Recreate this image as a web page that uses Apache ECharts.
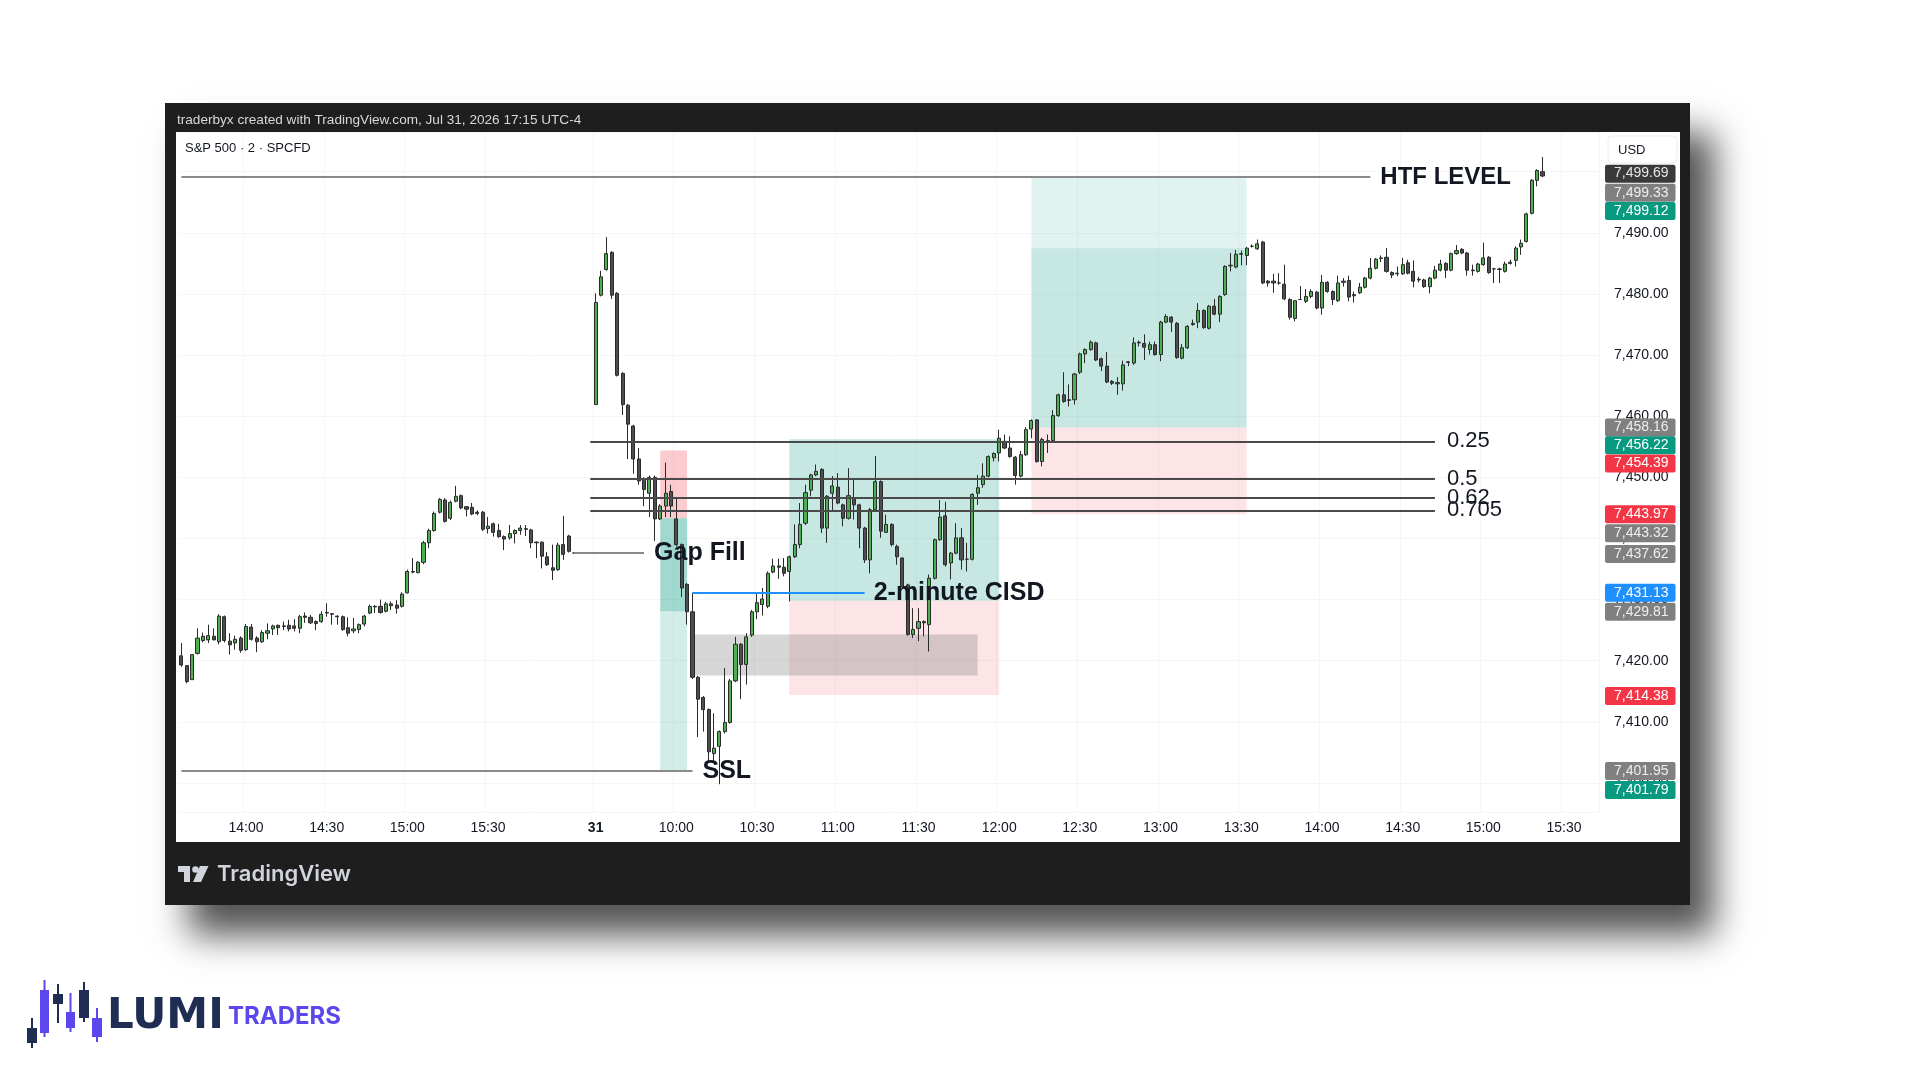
<!DOCTYPE html>
<html><head><meta charset="utf-8">
<script src="https://cdn.jsdelivr.net/npm/echarts@6/dist/echarts.min.js"></script>
<style>html,body{margin:0;padding:0;background:#fff}#c{width:1920px;height:1080px}</style>
</head><body><div id="c"></div>
<script>
// ---- DATA (candles: [open, close, low, high]) ----
const prevDay = [
[7420.8,7419.3,7419.0,7422.9],[7419.2,7416.6,7416.3,7419.2],[7416.9,7421.0,7416.9,7421.0],[7421.2,7423.7,7421.0,7425.3],
[7423.3,7424.0,7423.0,7424.6],[7423.4,7424.1,7422.9,7425.9],[7424.0,7423.4,7423.4,7425.3],[7423.1,7427.3,7422.7,7427.6],
[7427.2,7423.3,7423.0,7427.4],[7423.2,7422.6,7421.0,7424.5],[7422.9,7423.5,7421.8,7424.1],[7423.7,7421.7,7421.3,7424.0],
[7421.8,7425.6,7421.6,7426.0],[7425.5,7423.5,7423.3,7426.0],[7423.7,7423.1,7421.4,7424.0],[7423.1,7424.6,7422.9,7425.0],
[7424.5,7424.9,7423.5,7426.1],[7425.2,7425.7,7424.2,7425.9],[7425.8,7425.4,7424.2,7425.9],[7425.7,7425.6,7425.0,7426.4],
[7425.8,7425.2,7424.8,7426.7],[7425.7,7425.3,7424.8,7426.8],[7425.3,7427.2,7424.5,7427.5],[7427.3,7427.1,7426.2,7427.9],
[7427.1,7426.2,7426.0,7427.5],[7426.4,7426.1,7425.0,7426.6],[7426.4,7427.6,7426.2,7428.1],[7427.8,7427.9,7427.2,7429.4],
[7427.7,7427.6,7425.9,7427.8],[7427.3,7427.2,7425.9,7427.4],[7427.2,7425.1,7424.9,7427.4],[7425.4,7424.5,7424.0,7427.1],
[7424.9,7425.2,7424.5,7427.0],[7425.1,7425.9,7424.5,7426.1],[7426.0,7427.3,7425.6,7427.5],[7427.8,7428.9,7427.6,7429.2],
[7428.9,7428.8,7427.8,7429.1],[7428.9,7427.9,7427.7,7430.0],[7428.1,7429.3,7427.9,7429.6],[7429.3,7429.0,7428.3,7429.7],
[7429.1,7428.6,7427.7,7429.9],[7428.9,7430.9,7428.7,7431.2],[7431.1,7434.6,7431.0,7434.9],[7434.6,7434.5,7434.3,7436.8],
[7434.4,7436.1,7434.3,7436.3],[7436.1,7439.3,7435.8,7439.6],[7439.3,7441.3,7438.4,7441.6],[7441.3,7444.1,7441.1,7444.4],
[7444.3,7446.4,7444.1,7446.6],[7446.3,7442.8,7442.6,7446.6],[7443.3,7445.9,7443.0,7446.2],[7446.1,7446.9,7445.9,7448.6],
[7447.0,7445.0,7444.8,7447.2],[7445.2,7444.8,7443.6,7445.3],[7445.1,7444.0,7443.8,7445.8],[7444.3,7444.1,7443.8,7444.6],
[7444.3,7441.5,7441.2,7444.5],[7441.6,7442.0,7440.8,7443.5],[7442.4,7441.0,7440.3,7442.6],[7441.3,7440.3,7440.1,7442.4],
[7440.3,7439.9,7438.1,7440.5],[7440.1,7440.8,7439.8,7442.2],[7440.8,7441.3,7439.2,7441.5],[7441.3,7441.7,7440.6,7442.2],
[7441.6,7441.5,7440.4,7442.2],[7441.4,7439.3,7438.4,7441.6],[7439.4,7439.3,7436.8,7439.5],[7439.4,7437.1,7435.1,7439.5],
[7437.0,7435.7,7435.5,7437.8],[7435.2,7434.8,7433.2,7439.0],[7434.9,7438.9,7434.7,7439.3],[7439.0,7437.4,7436.5,7443.7],
[7440.4,7437.9,7437.7,7440.6]
];
const afterClose = [[7437.62,7437.62,7437.62,7437.62],[7437.62,7437.62,7437.62,7437.62],[7437.62,7437.62,7437.62,7437.62],[7437.62,7437.62,7437.62,7437.62]];
const day31 = [
[7461.9,7478.6,7461.9,7480.1],[7479.8,7482.8,7479.6,7483.8],[7484.0,7486.6,7483.8,7489.3],[7486.8,7479.8,7479.2,7487.0],
[7480.1,7466.7,7466.5,7480.3],[7467.0,7461.9,7460.2,7467.2],[7461.8,7458.7,7453.0,7462.0],[7458.4,7453.0,7450.6,7458.6],
[7453.0,7449.4,7448.8,7454.8],[7449.7,7448.0,7445.3,7450.0],[7447.4,7450.0,7443.5,7450.3],[7450.0,7443.2,7439.6,7450.3],
[7443.2,7445.3,7443.0,7445.6],[7445.3,7447.4,7443.5,7452.4],[7447.7,7445.3,7443.5,7448.8],[7443.2,7439.0,7438.7,7446.8],
[7439.0,7431.9,7430.4,7439.2],[7432.5,7428.0,7425.9,7432.7],[7428.0,7417.3,7417.0,7431.1],[7417.3,7413.7,7407.5,7417.5],
[7414.0,7412.0,7408.4,7414.2],[7412.0,7405.1,7403.6,7412.2],[7404.8,7405.7,7403.6,7411.4],[7406.0,7408.4,7399.8,7408.6],
[7408.4,7409.9,7408.1,7418.8],[7409.9,7416.7,7409.7,7417.0],[7416.7,7422.7,7416.5,7423.9],[7422.7,7419.4,7413.7,7422.9],
[7419.4,7423.9,7416.1,7424.5],[7424.2,7428.0,7423.9,7428.3],[7428.0,7429.5,7426.8,7431.0],[7429.2,7430.1,7427.4,7431.9],
[7428.9,7434.3,7428.6,7434.6],[7434.5,7435.5,7434.3,7436.7],[7435.5,7435.3,7433.4,7436.7],[7435.3,7434.3,7433.8,7436.8],
[7434.6,7437.0,7429.7,7437.2],[7437.0,7439.0,7436.8,7442.3],[7439.0,7442.3,7438.4,7445.8],[7442.5,7447.5,7442.2,7448.8],
[7447.9,7450.4,7446.9,7450.6],[7450.4,7451.0,7450.2,7452.1],[7451.3,7441.7,7440.9,7451.5],[7441.7,7446.9,7439.3,7447.1],
[7447.4,7448.6,7444.4,7450.2],[7448.4,7445.8,7445.6,7450.7],[7445.5,7443.3,7442.0,7445.7],[7443.3,7447.0,7443.1,7451.5],
[7446.6,7445.5,7443.1,7449.7],[7445.5,7441.7,7438.4,7445.7],[7441.7,7436.5,7436.0,7441.9],[7436.5,7444.7,7434.3,7445.0],
[7444.7,7449.3,7444.5,7453.5],[7449.3,7441.2,7440.1,7449.5],[7441.0,7442.3,7440.9,7443.9],[7442.3,7439.0,7438.7,7442.5],
[7438.7,7437.0,7435.7,7439.0],[7436.8,7432.1,7431.8,7436.9],[7432.4,7424.3,7424.1,7432.6],[7424.3,7425.1,7423.7,7428.6],
[7425.3,7426.4,7423.2,7428.6],[7426.4,7426.2,7424.0,7426.6],[7425.9,7433.5,7421.5,7434.1],[7433.5,7439.8,7433.3,7440.0],
[7439.8,7443.5,7439.6,7446.3],[7443.7,7435.7,7435.4,7446.0],[7436.0,7437.6,7433.3,7437.8],[7437.6,7440.1,7437.4,7442.5],
[7440.1,7436.5,7434.9,7441.7],[7436.6,7436.6,7434.6,7439.3],[7436.6,7447.2,7436.4,7447.4],[7447.4,7448.3,7445.5,7450.4],
[7448.8,7450.2,7448.3,7452.3],[7450.2,7453.4,7450.0,7453.6],[7453.2,7453.9,7452.6,7454.1],[7454.0,7456.4,7452.6,7457.8],
[7455.9,7454.8,7454.6,7457.0],[7454.8,7453.4,7453.2,7456.7],[7453.3,7450.3,7448.8,7453.5],[7450.2,7453.7,7450.0,7454.3],
[7453.7,7457.8,7453.5,7458.2],[7457.9,7459.3,7456.4,7459.5],[7459.4,7452.6,7452.4,7459.5],[7452.6,7456.2,7451.8,7456.5],
[7456.0,7456.0,7454.0,7457.0],[7456.0,7460.1,7455.8,7461.0],[7460.1,7463.5,7459.9,7463.7],[7463.5,7462.4,7462.2,7467.2],
[7462.7,7462.6,7461.6,7465.2],[7462.7,7466.9,7461.9,7467.1],[7467.2,7470.2,7466.9,7470.4],[7470.2,7470.9,7468.7,7471.1],
[7470.9,7472.1,7470.7,7472.4],[7472.0,7469.2,7469.0,7472.2],[7469.4,7468.2,7467.4,7469.6],[7468.2,7465.6,7465.4,7470.5],
[7465.7,7465.4,7465.1,7465.9],[7465.3,7465.5,7463.5,7466.4],[7465.3,7468.4,7464.2,7469.1],[7468.8,7468.9,7468.2,7469.0],
[7468.7,7472.0,7468.4,7472.9],[7472.0,7472.1,7471.4,7472.4],[7471.9,7471.3,7469.2,7473.4],[7470.9,7471.7,7470.1,7472.2],
[7471.7,7470.1,7469.9,7472.2],[7470.1,7475.4,7469.0,7475.6],[7475.4,7476.3,7475.2,7476.7],[7476.2,7475.4,7473.8,7476.4],
[7475.2,7469.6,7469.4,7475.4],[7469.5,7471.2,7469.3,7471.8],[7471.2,7474.7,7471.0,7474.9],[7475.0,7475.2,7474.8,7475.8],
[7475.4,7477.3,7474.4,7478.5],[7477.3,7474.5,7474.3,7477.5],[7474.4,7478.0,7474.2,7478.2],[7478.0,7476.7,7476.5,7479.2],
[7476.7,7479.6,7475.4,7479.8],[7479.9,7484.5,7479.7,7484.7],[7484.6,7484.7,7483.7,7486.7],[7484.4,7486.5,7484.2,7487.2],
[7486.5,7486.6,7484.7,7487.1],[7486.3,7487.5,7484.7,7487.7],[7487.8,7487.8,7487.6,7488.1],[7487.4,7488.2,7487.2,7488.9],
[7488.5,7481.8,7481.6,7488.7],[7482.1,7481.8,7481.2,7482.3],[7482.1,7481.8,7480.2,7483.3],[7481.8,7481.8,7481.5,7483.4],
[7481.6,7479.2,7479.0,7484.8],[7479.1,7476.2,7475.8,7479.3],[7476.0,7478.9,7475.5,7479.0],[7479.1,7479.1,7479.0,7481.3],
[7478.8,7479.6,7478.5,7480.8],[7479.6,7480.4,7479.3,7480.8],[7480.3,7477.7,7477.5,7480.5],[7477.7,7481.9,7476.6,7483.1],
[7481.9,7480.4,7480.2,7482.1],[7480.4,7479.1,7478.2,7480.6],[7478.9,7481.8,7478.7,7483.0],[7481.9,7482.1,7481.2,7482.6],
[7482.2,7479.5,7478.8,7483.0],[7479.7,7479.9,7478.6,7480.4],[7480.2,7481.1,7480.0,7481.8],[7481.1,7482.6,7480.9,7482.8],
[7482.6,7484.2,7482.4,7485.9],[7484.2,7485.7,7484.0,7485.9],[7485.8,7485.9,7485.2,7486.3],[7486.0,7483.7,7483.5,7487.5],
[7483.5,7483.1,7482.6,7483.7],[7483.3,7483.4,7482.9,7484.5],[7483.3,7484.8,7483.1,7485.9],[7485.1,7483.4,7483.2,7485.6],
[7483.7,7482.1,7481.1,7485.5],[7482.4,7482.3,7481.9,7482.8],[7482.3,7481.2,7481.0,7482.5],[7481.2,7482.6,7480.1,7482.8],
[7482.6,7483.9,7482.4,7484.6],[7483.9,7484.9,7483.7,7485.6],[7485.0,7483.9,7482.6,7485.2],[7483.9,7486.6,7483.7,7486.8],
[7486.6,7487.1,7486.4,7488.0],[7487.3,7486.7,7486.5,7487.5],[7486.7,7483.9,7483.0,7486.9],[7483.9,7483.8,7483.0,7484.8],
[7483.7,7484.9,7483.5,7485.1],[7484.8,7485.9,7484.6,7488.4],[7486.0,7483.5,7483.3,7486.2],[7484.1,7484.1,7481.8,7484.3],
[7484.0,7484.1,7481.8,7484.3],[7483.7,7484.9,7483.5,7485.3],[7485.0,7485.2,7484.8,7485.6],[7485.5,7487.5,7484.5,7487.8],
[7487.7,7488.3,7486.4,7488.9],[7488.6,7493.1,7488.4,7493.3],[7493.2,7498.6,7493.0,7498.8],[7498.6,7500.2,7497.6,7500.4],
[7500.0,7499.3,7499.1,7502.4]
];
// Levels
const htfLevel = 7499.12;
const sslLevel = 7401.95;
const gapFillLevel = 7437.62;
const cisdLevel = 7431.13;
const fibNames = ['0.25','0.5','0.62','0.705'];
const fibLevels = [7455.9, 7449.7, 7446.7, 7444.6];
// Positions (day-31 candle indices)
const shortPos = {from:12, to:17, entry:7443.32, stop:7454.39, target:7401.79, reached:7428.1};
const longPos1 = {from:36, to:75, entry:7429.81, stop:7414.38, target:7456.22};
const longPos2 = {from:81, to:121, entry:7458.16, stop:7443.97, target:7499.12, reached:7487.5};
const greyZone = {from:18, to:71, low:7417.6, high:7424.3};
// Price tags on the axis
const priceTagValues = [7499.69,7499.33,7499.12,7458.16,7456.22,7454.39,7443.97,7443.32,7437.62,7431.13,7429.81,7414.38,7401.95,7401.79];
const priceTagKinds  = ['dark','grey','green','grey','green','red','red','grey','grey','blue','grey','red','grey','green'];
const priceTagShift  = [0,17,34,0,6,13,0,15,1,0,11,1,0,18];

// ---- categories ----
function times(day, h, m, count){const out=[];for(let i=0;i<count;i++){const t=h*60+m+2*i;out.push(day+' '+String(Math.floor(t/60)).padStart(2,'0')+':'+String(t%60).padStart(2,'0'));}return out;}
const prevCats = times('7/30',13,36,prevDay.length+afterClose.length);
const dayCats = times('7/31',9,30,187);
const categories = prevCats.concat(dayCats);
const off = prevCats.length;
const candles = prevDay.concat(afterClose, day31);

const fmt = v => v.toLocaleString('en-US',{minimumFractionDigits:2,maximumFractionDigits:2});
const tagColors = {dark:'#3a3a3a', grey:'#808080', green:'#089981', red:'#f23645', blue:'#1e8fff'};
const tagText = {dark:'#e6e6e6', grey:'#eeeeee', green:'#ffffff', red:'#ffffff', blue:'#ffffff'};
const FONT = '"Liberation Sans", Arial, sans-serif';
const CANDLE_W = 5.38;

function showLabel(idx, val){
  const t = val.split(' ')[1];
  if (val.startsWith('7/30') && t === '16:00') return false;
  return t.endsWith(':00') || t.endsWith(':30');
}

const annLabel = (text, dist, extra) => Object.assign({show:true, position:'end', distance:dist, formatter:text,
  fontFamily:FONT, fontSize:25, fontWeight:'bold', color:'#131722'}, extra||{});

const chart = echarts.init(document.getElementById('c'), null, {width:1920, height:1080});
const option = {
  animation:false,
  backgroundColor:'#ffffff',
  grid:{left:178.7, top:132, width:categories.length*CANDLE_W, height:680, containLabel:false},
  xAxis:{type:'category', data:categories, boundaryGap:true, z:1,
    axisLine:{show:false}, axisTick:{show:false},
    axisLabel:{interval:showLabel, margin:9, fontFamily:FONT, fontSize:14, color:'#131722',
      formatter:v=> v==='7/31 09:30' ? '{b|31}' : v.split(' ')[1],
      rich:{b:{fontWeight:'bold', fontFamily:FONT, fontSize:14, color:'#131722'}}},
    splitLine:{show:true, interval:showLabel, lineStyle:{color:'#f5f5f5', width:1}}
  },
  yAxis:{type:'value', position:'right', min:7395.25, max:7506.5, splitNumber:11, z:1,
    axisLine:{show:false}, axisTick:{show:false},
    axisLabel:{margin:15, fontFamily:FONT, fontSize:14, color:'#131722', showMinLabel:false, showMaxLabel:false, formatter:v=>fmt(v)},
    splitLine:{show:true, lineStyle:{color:'#f6f6f6'}}
  },
  series:[
    {type:'line', data:[], z:2, silent:true,
      markArea:{silent:true, data:[
        [{coord:[off+shortPos.from, shortPos.entry], itemStyle:{color:'rgba(242,54,69,0.26)'}}, {coord:[off+shortPos.to, shortPos.stop]}],
        [{coord:[off+shortPos.from, shortPos.entry], itemStyle:{color:'rgba(8,153,129,0.38)'}}, {coord:[off+shortPos.to, shortPos.reached]}],
        [{coord:[off+shortPos.from, shortPos.reached], itemStyle:{color:'rgba(8,153,129,0.18)'}}, {coord:[off+shortPos.to, shortPos.target]}],
        [{coord:[off+longPos1.from, longPos1.entry], itemStyle:{color:'rgba(8,153,129,0.23)'}}, {coord:[off+longPos1.to, longPos1.target]}],
        [{coord:[off+longPos1.from, longPos1.entry], itemStyle:{color:'rgba(242,54,69,0.13)'}}, {coord:[off+longPos1.to, longPos1.stop]}],
        [{coord:[off+longPos2.from, longPos2.entry], itemStyle:{color:'rgba(8,153,129,0.23)'}}, {coord:[off+longPos2.to, longPos2.reached]}],
        [{coord:[off+longPos2.from, longPos2.reached], itemStyle:{color:'rgba(8,153,129,0.12)'}}, {coord:[off+longPos2.to, longPos2.target]}],
        [{coord:[off+longPos2.from, longPos2.entry], itemStyle:{color:'rgba(242,54,69,0.13)'}}, {coord:[off+longPos2.to, longPos2.stop]}],
        [{coord:[off+greyZone.from, greyZone.high], itemStyle:{color:'rgba(120,120,120,0.3)'}}, {coord:[off+greyZone.to, greyZone.low]}]
      ]}
    },
    {type:'candlestick', data:candles, z:4, barWidth:3.6,
      itemStyle:{color:'#4caf50', color0:'#4e4e4e', borderColor:'#2a2a2a', borderColor0:'#2a2a2a', borderWidth:1}
    },
    {type:'line', data:[], z:6, silent:true,
      markLine:{symbol:['none','none'], silent:true, data:[
        [{coord:[0, htfLevel], lineStyle:{color:'#8a8a8a', width:2, type:'solid'}, label:annLabel('HTF LEVEL', 10, {fontSize:24})}, {coord:[off+144, htfLevel]}],
        [{coord:[0, sslLevel], lineStyle:{color:'#8a8a8a', width:2, type:'solid'}, label:annLabel('SSL', 10)}, {coord:[off+18, sslLevel]}],
        [{coord:[off-4, gapFillLevel], lineStyle:{color:'#8a8a8a', width:2, type:'solid'}, label:annLabel('Gap Fill', 10)}, {coord:[off+9, gapFillLevel]}],
        [{coord:[off+18, cisdLevel], lineStyle:{color:'#1e8fff', width:2, type:'solid'}, label:annLabel('2-minute CISD', 9)}, {coord:[off+50, cisdLevel]}]
      ].concat(fibLevels.map((v,i)=>[
        {coord:[off-1, v], lineStyle:{color:'#4a4a4a', width:1.8, type:'solid'},
         label:{show:true, position:'end', distance:12, formatter:fibNames[i], fontFamily:FONT, fontSize:22, color:'#131722'}},
        {coord:[off+156, v]}
      ]))}
    },
    {type:'line', data:[], z:8, silent:true,
      markLine:{symbol:['none','none'], silent:true, data: priceTagValues.map((v,i)=>({
        yAxis:v, lineStyle:{color:'rgba(0,0,0,0)', width:1, type:'solid'},
        label:{show:true, position:'end', distance:6, offset:[0, priceTagShift[i]], formatter:fmt(v),
          fontFamily:FONT, fontSize:14, lineHeight:14, padding:[2,7,2,9], borderRadius:2,
          backgroundColor:tagColors[priceTagKinds[i]], color:tagText[priceTagKinds[i]], opacity:1}
      }))}
    }
  ],
  graphic:[
    {type:'rect', z:0, shape:{x:165,y:103,width:1525,height:802}, style:{fill:'#1e1e1e', shadowBlur:34, shadowOffsetX:24, shadowOffsetY:30, shadowColor:'rgba(0,0,0,0.68)'}},
    {type:'rect', z:0, shape:{x:176,y:132,width:1504,height:710}, style:{fill:'#ffffff'}},
    {type:'text', z:1, style:{text:'traderbyx created with TradingView.com, Jul 31, 2026 17:15 UTC-4', x:177, y:120, verticalAlign:'middle', fill:'#d8d8d8', fontSize:13.6, fontFamily:FONT}},
    {type:'text', z:1, style:{text:'S&P 500 · 2 · SPCFD', x:185, y:148, verticalAlign:'middle', fill:'#131722', fontSize:13, fontFamily:FONT}},
    {type:'rect', z:1, shape:{x:1608,y:136,width:69,height:27,r:4}, style:{fill:'#ffffff', stroke:'#ececec', lineWidth:1}},
    {type:'text', z:1, style:{text:'USD', x:1618, y:150, verticalAlign:'middle', fill:'#131722', fontSize:13, fontFamily:FONT}},
    // TradingView logo in footer
    {type:'rect', z:1, shape:{x:178,y:866,width:12,height:6}, style:{fill:'#d1d4dc'}},
    {type:'rect', z:1, shape:{x:184,y:866,width:6,height:16}, style:{fill:'#d1d4dc'}},
    {type:'circle', z:1, shape:{cx:195.5,cy:869.5,r:3.3}, style:{fill:'#d1d4dc'}},
    {type:'polygon', z:1, shape:{points:[[200,866],[208.5,866],[201,882],[193,882]]}, style:{fill:'#d1d4dc'}},
    {type:'text', z:1, style:{text:'TradingView', x:217, y:874, verticalAlign:'middle', fill:'#d1d4dc', fontSize:22, fontWeight:600, fontFamily:'Inter, "Noto Sans", sans-serif'}},
    // LUMI TRADERS logo
    {type:'rect', z:1, shape:{x:31,y:1018,width:2,height:30}, style:{fill:'#1f2d52'}},
    {type:'rect', z:1, shape:{x:27,y:1028,width:10,height:15}, style:{fill:'#1f2d52'}},
    {type:'rect', z:1, shape:{x:43.5,y:980,width:2,height:57}, style:{fill:'#5b47ec'}},
    {type:'rect', z:1, shape:{x:40,y:990,width:9,height:43}, style:{fill:'#5b47ec'}},
    {type:'rect', z:1, shape:{x:57,y:984,width:2,height:39}, style:{fill:'#1f2d52'}},
    {type:'rect', z:1, shape:{x:53,y:994,width:10,height:10}, style:{fill:'#1f2d52'}},
    {type:'rect', z:1, shape:{x:69.5,y:993,width:2,height:39}, style:{fill:'#5b47ec'}},
    {type:'rect', z:1, shape:{x:66,y:1012,width:9,height:16}, style:{fill:'#5b47ec'}},
    {type:'rect', z:1, shape:{x:83,y:982,width:2,height:40}, style:{fill:'#1f2d52'}},
    {type:'rect', z:1, shape:{x:79,y:990,width:10,height:28}, style:{fill:'#1f2d52'}},
    {type:'rect', z:1, shape:{x:96,y:1008,width:2,height:34}, style:{fill:'#5b47ec'}},
    {type:'rect', z:1, shape:{x:92,y:1018,width:10,height:19}, style:{fill:'#5b47ec'}},
    {type:'text', z:1, style:{text:'LUMI', x:107, y:1017, verticalAlign:'middle', fill:'#1f2d52', fontSize:42, fontWeight:'bold', fontFamily:'"DejaVu Sans", sans-serif'}},
    {type:'text', z:1, style:{text:'TRADERS', x:228, y:1017, verticalAlign:'middle', fill:'#5b47ec', fontSize:24, fontWeight:'bold', fontFamily:'Inter, "Noto Sans", sans-serif'}}
  ]
};
chart.setOption(option);
</script></body></html>
